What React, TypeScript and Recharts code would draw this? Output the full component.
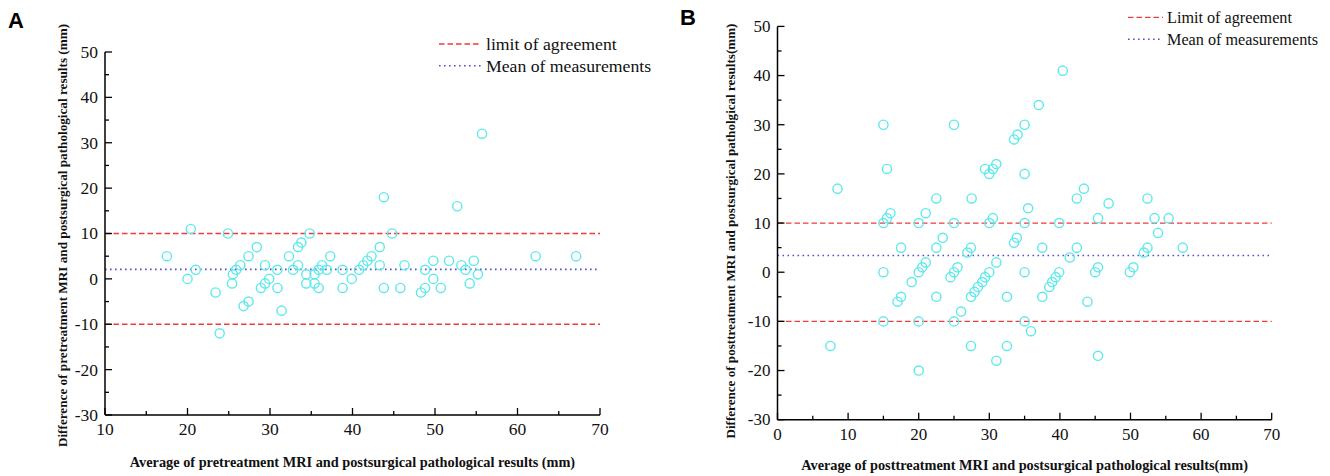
import React from 'react';
import { ScatterChart, Scatter, XAxis, YAxis, ReferenceLine } from 'recharts';

const SERIF = '"Liberation Serif", "Times New Roman", serif';
const SANS = '"Liberation Sans", Arial, sans-serif';

// Panel A: pretreatment MRI vs pathology
const panelAX = [17.5, 20.4, 20, 21, 23.4, 23.9, 24.9, 25.5, 25.4, 25.9, 26.4, 27.4, 28.4, 26.8, 27.4, 28.9, 29.4, 29.4, 29.9, 30.9, 30.9, 31.4, 32.3, 32.8, 33.4, 33.4, 33.8, 34.8, 34.4, 34.4, 35.4, 35.4, 35.9, 35.9, 36.3, 36.9, 37.3, 38.8, 38.8, 39.9, 40.8, 41.3, 41.8, 42.3, 43.3, 43.3, 43.8, 43.8, 44.8, 45.8, 46.3, 48.3, 48.8, 48.8, 49.8, 49.8, 50.7, 51.7, 52.7, 53.2, 53.7, 54.2, 54.7, 55.2, 55.7, 62.2, 67.1];
const panelAY = [5, 11, 0, 2, -3, -12, 10, 1, -1, 2, 3, 5, 7, -6, -5, -2, 3, -1, 0, 2, -2, -7, 5, 2, 7, 3, 8, 10, 1, -1, 1, -1, -2, 2, 3, 2, 5, 2, -2, 0, 2, 3, 4, 5, 7, 3, 18, -2, 10, -2, 3, -3, -2, 2, 4, 0, -2, 4, 16, 3, 2, -1, 4, 1, 32, 5, 5];
const panelALimits = [10, -10];
const panelAMean = 2.1;

// Panel B: posttreatment MRI vs pathology
const panelBX = [7.5, 8.5, 15, 15.5, 15, 15.5, 16, 15, 15, 17.5, 17, 17.5, 19, 20, 21, 20, 20.5, 21, 20, 20, 22.5, 22.5, 22.5, 23.4, 25, 25, 25, 25.5, 24.5, 25, 26, 26.9, 27.5, 27.4, 27.4, 27.9, 28.4, 29, 29.4, 30, 27.4, 29.4, 30, 30.5, 31, 30, 30.5, 31, 31, 32.5, 32.5, 33.5, 34, 35, 33.5, 33.9, 35, 35.5, 35, 35, 35, 35.9, 37, 40.4, 37.5, 37.5, 38.5, 38.9, 39.4, 39.9, 39.9, 41.4, 42.4, 42.4, 43.4, 43.9, 45.4, 45, 45.4, 45.4, 46.9, 49.9, 50.4, 51.9, 52.4, 52.4, 53.4, 53.9, 55.4, 57.4];
const panelBY = [-15, 17, 30, 21, 10, 11, 12, 0, -10, 5, -6, -5, -2, 10, 12, 0, 1, 2, -10, -20, 15, 5, -5, 7, 30, 10, 0, 1, -1, -10, -8, 4, 15, 5, -5, -4, -3, -2, -1, 0, -15, 21, 20, 21, 22, 10, 11, 2, -18, -5, -15, 27, 28, 30, 6, 7, 20, 13, 10, 0, -10, -12, 34, 41, 5, -5, -3, -2, -1, 0, 10, 3, 5, 15, 17, -6, 11, 0, 1, -17, 14, 0, 1, 4, 5, 15, 11, 8, 11, 5];
const panelBLimits = [10, -10];
const panelBMean = 3.4;

const ticksAX = [10, 15, 20, 25, 30, 35, 40, 45, 50, 55, 60, 65, 70];
const ticksBX = [0, 5, 10, 15, 20, 25, 30, 35, 40, 45, 50, 55, 60, 65, 70];
const ticksY = [-30, -25, -20, -15, -10, -5, 0, 5, 10, 15, 20, 25, 30, 35, 40, 45, 50];

const titleAX = 'Average of pretreatment MRI and postsurgical pathological results (mm)';
const titleAY = 'Difference of pretreatment MRI and postsurgical pathological results (mm)';
const titleBX = 'Average of posttreatment MRI and postsurgical pathological results(mm)';
const titleBY = 'Difference of posttreatment MRI and postsurgical patholgical results(mm)';

const legendLimitA = 'limit of agreement';
const legendLimitB = 'Limit of agreement';
const legendMean = 'Mean of measurements';

const toPoints = (xs: number[], ys: number[]) => xs.map((x, i) => ({ x, y: ys[i] }));
const dataA = toPoints(panelAX, panelAY);
const dataB = toPoints(panelBX, panelBY);

const CYAN = '#5ee9ec';
const RED = '#ee3a3f';
const BLUE = '#4f4fdc';
const RED_DASH = '5.5 3';
const BLUE_DASH = '1.6 3.4';

const isMajor = (v: number) => Math.abs(v % 10) === 0;

const makeXTick = (fontSize: number, dy: number) => (p: any) => {
  const { x, y, payload } = p;
  const v = payload.value;
  const major = isMajor(v);
  return (
    <g>
      <line x1={x} x2={x} y1={y} y2={y - (major ? 7 : 4)} stroke="#000" strokeWidth={1.3} />
      {major && (
        <text x={x} y={y + dy} textAnchor="middle" style={{ fontFamily: SERIF, fontSize }} fill="#111">
          {v}
        </text>
      )}
    </g>
  );
};

const makeYTick = (fontSize: number) => (p: any) => {
  const { x, y, payload } = p;
  const v = payload.value;
  const major = isMajor(v);
  return (
    <g>
      <line x1={x} x2={x + (major ? 7 : 4)} y1={y} y2={y} stroke="#000" strokeWidth={1.3} />
      {major && (
        <text x={x - 7} y={y + fontSize * 0.34} textAnchor="end" style={{ fontFamily: SERIF, fontSize }} fill="#111">
          {v}
        </text>
      )}
    </g>
  );
};

const makeXTitle = (text: string, fontSize: number, dy: number) => (p: any) => {
  const vb = p.viewBox || {};
  return (
    <text x={vb.x + vb.width / 2} y={vb.y + dy} textAnchor="middle" style={{ fontFamily: SERIF, fontWeight: 'bold', fontSize }} fill="#111">
      {text}
    </text>
  );
};

const makeYTitle = (text: string, fontSize: number, dx: number, dyc: number) => (p: any) => {
  const vb = p.viewBox || {};
  const cx = vb.x + vb.width - dx;
  const cy = vb.y + vb.height / 2 + dyc;
  return (
    <text x={cx} y={cy} transform={`rotate(-90, ${cx}, ${cy})`} textAnchor="middle" dominantBaseline="central" style={{ fontFamily: SERIF, fontWeight: 'bold', fontSize }} fill="#111">
      {text}
    </text>
  );
};

const ring = (p: any) => (
  <circle cx={p.cx} cy={p.cy} r={4.6} fill="none" stroke={CYAN} strokeWidth={1.4} />
);

export default function App() {
  return (
    <div style={{ position: 'absolute', left: 0, top: 0, width: 1330, height: 476, background: '#fff', overflow: 'hidden' }}>
      <div style={{ position: 'absolute', left: 0, top: 0 }}>
        <ScatterChart width={660} height={476} margin={{ top: 52, right: 60, bottom: 31, left: 45 }}>
          <XAxis
            type="number"
            dataKey="x"
            domain={[10, 70]}
            ticks={ticksAX}
            interval={0}
            allowDataOverflow
            height={30}
            tickSize={0}
            tickMargin={0}
            tickLine={false}
            axisLine={{ stroke: '#000', strokeWidth: 1.5 }}
            tick={makeXTick(17.5, 20)}
            label={makeXTitle(titleAX, 14.3, 52)}
          />
          <YAxis
            type="number"
            dataKey="y"
            domain={[-30, 50]}
            ticks={ticksY}
            interval={0}
            allowDataOverflow
            width={60}
            tickSize={0}
            tickMargin={0}
            tickLine={false}
            axisLine={{ stroke: '#000', strokeWidth: 1.5 }}
            tick={makeYTick(17.5)}
            label={makeYTitle(titleAY, 13.2, 43, 2)}
          />
          {panelALimits.map((v) => (
            <ReferenceLine key={v} y={v} stroke={RED} strokeWidth={1.3} strokeDasharray={RED_DASH} />
          ))}
          <ReferenceLine y={panelAMean} stroke={BLUE} strokeWidth={1.6} strokeDasharray={BLUE_DASH} />
          <Scatter data={dataA} shape={ring} isAnimationActive={false} />
        </ScatterChart>
      </div>
      <div style={{ position: 'absolute', left: 670, top: 0 }}>
        <ScatterChart width={660} height={476} margin={{ top: 26.4, right: 58.3, bottom: 26.3, left: 47.5 }}>
          <XAxis
            type="number"
            dataKey="x"
            domain={[0, 70]}
            ticks={ticksBX}
            interval={0}
            allowDataOverflow
            height={30}
            tickSize={0}
            tickMargin={0}
            tickLine={false}
            axisLine={{ stroke: '#000', strokeWidth: 1.5 }}
            tick={makeXTick(17, 20)}
            label={makeXTitle(titleBX, 14.3, 50)}
          />
          <YAxis
            type="number"
            dataKey="y"
            domain={[-30, 50]}
            ticks={ticksY}
            interval={0}
            allowDataOverflow
            width={60}
            tickSize={0}
            tickMargin={0}
            tickLine={false}
            axisLine={{ stroke: '#000', strokeWidth: 1.5 }}
            tick={makeYTick(17)}
            label={makeYTitle(titleBY, 13.1, 47, 8)}
          />
          {panelBLimits.map((v) => (
            <ReferenceLine key={v} y={v} stroke={RED} strokeWidth={1.3} strokeDasharray={RED_DASH} />
          ))}
          <ReferenceLine y={panelBMean} stroke={BLUE} strokeWidth={1.6} strokeDasharray={BLUE_DASH} />
          <Scatter data={dataB} shape={ring} isAnimationActive={false} />
        </ScatterChart>
      </div>
      <svg width={1330} height={476} style={{ position: 'absolute', left: 0, top: 0, pointerEvents: 'none' }}>
        <text x={8} y={28} style={{ fontFamily: SANS, fontWeight: 'bold', fontSize: 22 }} fill="#000">A</text>
        <text x={680} y={25} style={{ fontFamily: SANS, fontWeight: 'bold', fontSize: 22 }} fill="#000">B</text>
        <line x1={439} x2={481} y1={44} y2={44} stroke={RED} strokeWidth={1.3} strokeDasharray={RED_DASH} />
        <text x={486} y={50} style={{ fontFamily: SERIF, fontSize: 17.7 }} fill="#111">{legendLimitA}</text>
        <line x1={439} x2={481} y1={65.7} y2={65.7} stroke={BLUE} strokeWidth={1.6} strokeDasharray={BLUE_DASH} />
        <text x={486} y={72} style={{ fontFamily: SERIF, fontSize: 17.7 }} fill="#111">{legendMean}</text>
        <line x1={1128} x2={1163} y1={17.3} y2={17.3} stroke={RED} strokeWidth={1.3} strokeDasharray={RED_DASH} />
        <text x={1167} y={23} style={{ fontFamily: SERIF, fontSize: 16.2 }} fill="#111">{legendLimitB}</text>
        <line x1={1128} x2={1163} y1={39.3} y2={39.3} stroke={BLUE} strokeWidth={1.6} strokeDasharray={BLUE_DASH} />
        <text x={1167} y={45} style={{ fontFamily: SERIF, fontSize: 16.2 }} fill="#111">{legendMean}</text>
      </svg>
    </div>
  );
}
